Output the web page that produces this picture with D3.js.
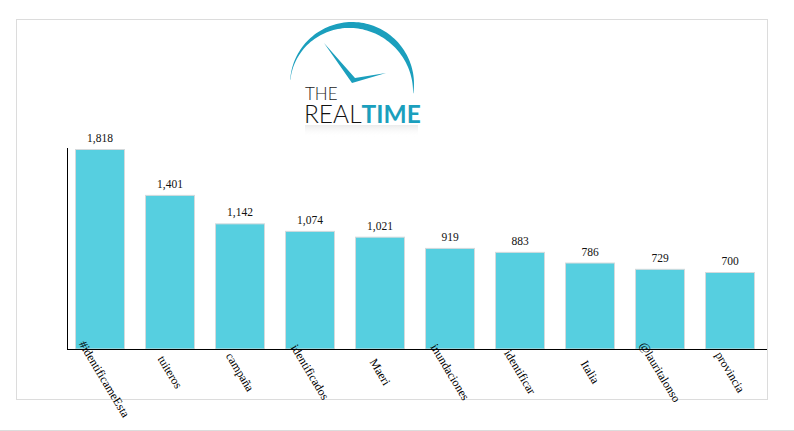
<!DOCTYPE html>
<html><head><meta charset="utf-8">
<script src="https://cdn.jsdelivr.net/npm/d3@7"></script>
<style>body{margin:0;background:#fff}svg{display:block}</style>
</head><body>
<svg id="chart" width="794" height="431"></svg>
<script>
const categories = ["#identificameEsta","tuiteros","campaña","identificados","Maeri","inundaciones","identificar","Italia","@lauritalonso","provincia"];
const values = [1818,1401,1142,1074,1021,919,883,786,729,700];
const valueLabels = ["1,818","1,401","1,142","1,074","1,021","919","883","786","729","700"];

const svg = d3.select("#chart");
const teal = "#1b9fbd";

// outer frame
svg.append("rect").attr("x",16.5).attr("y",19.5).attr("width",751).attr("height",380)
  .attr("fill","none").attr("stroke","#dcdcdc").attr("stroke-width",1);
svg.append("line").attr("x1",0).attr("x2",794).attr("y1",430.5).attr("y2",430.5)
  .attr("stroke","#dcdcdc");

// logo
const logo = svg.append("g");
const cx = 352, cy = 84, R = 62;
const arcPath = (() => {
  const a0 = -1.5, a1 = 1.72;
  const pts = [];
  const N = 80;
  for (let i=0;i<=N;i++){const t=i/N;const a=a0+(a1-a0)*t;pts.push([cx+R*Math.sin(a),cy-R*Math.cos(a)]);}
  for (let i=N;i>=0;i--){const t=i/N;const a=a0+(a1-a0)*t;const th=0.3+6.2*Math.sin(Math.PI*Math.pow(t,1.3));pts.push([cx+(R-th)*Math.sin(a),cy-(R-th)*Math.cos(a)]);}
  return "M"+pts.map(p=>p[0].toFixed(2)+","+p[1].toFixed(2)).join("L")+"Z";
})();
logo.append("path").attr("d",arcPath).attr("fill",teal);
// hands
logo.append("path").attr("d","M324,43 L355,78 L386,73 L352,83 Z").attr("fill",teal);
logo.append("text").attr("x",305).attr("y",100).attr("font-family","Lato").attr("font-weight",300)
  .attr("font-size",17).attr("fill","#222").text("THE");
const rt = logo.append("text").attr("x",304).attr("y",123).attr("font-family","Lato").attr("font-size",24.5);
rt.append("tspan").attr("font-weight",300).attr("fill","#111").text("REAL");
rt.append("tspan").attr("font-weight",700).attr("fill",teal).text("TIME");
// faint reflection band under the logo
const defs = svg.append("defs");
const grad = defs.append("linearGradient").attr("id","fade").attr("x1",0).attr("y1",0).attr("x2",0).attr("y2",1);
grad.append("stop").attr("offset","0%").attr("stop-color","#e6e6e6").attr("stop-opacity",0.8);
grad.append("stop").attr("offset","100%").attr("stop-color","#ffffff").attr("stop-opacity",0);
logo.append("rect").attr("x",305).attr("y",125).attr("width",113).attr("height",12).attr("fill","url(#fade)");

// scales
const x = d3.scaleBand().domain(categories).range([65,765]).paddingInner(2/7).paddingOuter(1/7);
const y = d3.scaleLinear().domain([0,1818]).range([349,149]);

// bars
svg.append("g").selectAll("rect").data(values).join("rect")
  .attr("x",(d,i)=>x(categories[i])+0.5)
  .attr("y",d=>y(d)+0.5)
  .attr("width",x.bandwidth()-1)
  .attr("height",d=>y(0)-y(d)-0.5)
  .attr("fill","#56cfe0").attr("stroke","#d4dadc").attr("stroke-width",1);

// value labels
svg.append("g").selectAll("text").data(values).join("text")
  .attr("x",(d,i)=>x(categories[i])+x.bandwidth()/2)
  .attr("y",d=>y(d)-7)
  .attr("text-anchor","middle")
  .attr("font-family","Liberation Serif").attr("font-size",11.5).attr("fill","#111")
  .text((d,i)=>valueLabels[i]);

// axes
svg.append("line").attr("x1",67.5).attr("x2",67.5).attr("y1",148).attr("y2",349.5).attr("stroke","#000");
svg.append("line").attr("x1",67).attr("x2",767).attr("y1",349.5).attr("y2",349.5).attr("stroke","#000");

// x labels rotated
const ang = 59;
const rad = ang*Math.PI/180;
const lab = svg.append("g").selectAll("text").data(categories).join("text")
  .attr("font-family","Liberation Serif").attr("font-size",12).attr("fill","#000")
  .attr("text-anchor","middle").attr("dominant-baseline","central")
  .text(d=>d);
lab.each(function(d){
  const len = this.getComputedTextLength();
  let cxp = x(d)+x.bandwidth()/2, cyp = 372;
  const half = len/2;
  const topY = cyp - half*Math.sin(rad);
  if (topY < 342) {
    const shift = (342 - topY)/Math.sin(rad);
    cxp += shift*Math.cos(rad); cyp += shift*Math.sin(rad);
  }
  d3.select(this).attr("transform",`translate(${cxp},${cyp}) rotate(${ang})`);
});
</script>
</body></html>
